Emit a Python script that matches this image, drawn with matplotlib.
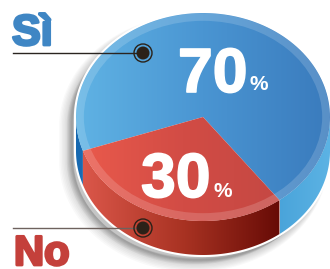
import numpy as np
import matplotlib
matplotlib.use('Agg')
import matplotlib.pyplot as plt
from matplotlib.patches import Polygon, Ellipse, Circle
from matplotlib.colors import LinearSegmentedColormap
import matplotlib.patheffects as pe

# Data
labels = ['Sì', 'No']
values = [70, 30]
pct_text = ['70', '30']
label_colors = ['#3f86c4', '#c4403b']

# Canvas in pixel coordinates
W, H = 330, 269
fig = plt.figure(figsize=(W / 100, H / 100), dpi=100)
ax = fig.add_axes([0, 0, 1, 1])

# pie geometry (pseudo 3D)
cx, cy, rx, ry, depth = 203, 117, 127, 104, 34
start_no = 199
spans = np.array(values) / sum(values) * 360
no_a0, no_a1 = start_no, start_no + spans[1]
si_a0, si_a1 = no_a1, no_a1 + spans[0]


def arc(a0, a1, dy=0, n=120):
    t = np.radians(np.linspace(a0, a1, n))
    return np.column_stack([cx + rx * np.cos(t), cy - ry * np.sin(t) + dy])


def side(a0, a1):
    return np.vstack([arc(a0, a1), arc(a0, a1, depth)[::-1]])


def grad_fill(xy, colors, x0, x1, z=2):
    patch = Polygon(xy, closed=True, facecolor='none', edgecolor='none', zorder=z)
    ax.add_patch(patch)
    cmap = LinearSegmentedColormap.from_list('g', colors)
    img = ax.imshow(np.linspace(0, 1, 256)[None, :], cmap=cmap, extent=[x0, x1, H, 0],
                    aspect='auto', zorder=z, interpolation='bilinear')
    img.set_clip_path(patch)


silhouette = np.vstack([arc(0, 180), arc(180, 360, depth)])

# soft shadow
for i in range(10):
    ax.add_patch(Polygon(silhouette + [-4 - i * 0.6, 5 + i * 0.5], closed=True,
                         facecolor='#000000', alpha=0.025, edgecolor='#000000',
                         linewidth=i * 1.2, zorder=0))
# white border
ax.add_patch(Polygon(silhouette, closed=True, facecolor='white', edgecolor='white',
                     linewidth=3, zorder=1))

# sides
grad_fill(side(si_a0 % 360, 360), ['#4aa4da', '#5cb3e4'], 280, 330)
grad_fill(side(180, no_a0), ['#1668b0', '#1b70b8'], 76, 90)
grad_fill(side(no_a0, no_a1), ['#dc584b', '#a83222', '#600703'], 80, 290)

# top slices
center = np.array([[cx, cy]])
grad_fill(np.vstack([center, arc(si_a0, si_a1)]), ['#60b3e4', '#4a95d2', '#3a7bbd'], 76, 330, z=3)
grad_fill(np.vstack([center, arc(no_a0, no_a1)]), ['#ea5a4c', '#d24c45', '#c44843'], 80, 285, z=3)

# lighter rim on top
top_clip = Ellipse((cx, cy), 2 * rx, 2 * ry, facecolor='none', edgecolor='none')
ax.add_patch(top_clip)
rim = Ellipse((cx, cy), 2 * rx - 8, 2 * ry - 8, facecolor='none', edgecolor='white',
              linewidth=5.5, alpha=0.16, zorder=4)
ax.add_patch(rim)
rim.set_clip_path(top_clip)

# percentage labels
num_font = dict(family='Liberation Sans', weight='bold', color='white', zorder=6)
stroke = [pe.withStroke(linewidth=1.2, foreground='white')]
ax.text(178, 92, pct_text[0], fontsize=45, ha='left', va='baseline',
        path_effects=stroke, **num_font)
ax.text(250, 90, '%', fontsize=15, ha='left', va='baseline', **num_font)
ax.text(141, 197, pct_text[1], fontsize=45, ha='left', va='baseline',
        path_effects=stroke, **num_font)
ax.text(213, 197, '%', fontsize=15, ha='left', va='baseline', **num_font)

# category labels
ax.text(12, 45, labels[0], fontsize=31, family='Liberation Sans', weight='bold',
        color=label_colors[0], ha='left', va='baseline', zorder=6,
        path_effects=[pe.withStroke(linewidth=2, foreground=label_colors[0])])
ax.text(14, 265, labels[1], fontsize=30, family='Liberation Sans', weight='bold',
        color=label_colors[1], ha='left', va='baseline', zorder=6,
        path_effects=[pe.withStroke(linewidth=2, foreground=label_colors[1])])

# leader lines with markers
for (ly, lc) in [(53, '#2a2420'), (228, '#6e625e')]:
    ax.plot([13, 143], [ly, ly], color=lc, linewidth=1.0, zorder=6)
    ax.add_patch(Circle((143, ly), 9, facecolor='none', edgecolor='#2a2118',
                        linewidth=1.0, zorder=7))
    ax.add_patch(Circle((143, ly), 6.5, facecolor='#2b2118', edgecolor='none', zorder=7))

ax.set_xlim(0, W)
ax.set_ylim(H, 0)
ax.axis('off')
fig.savefig('out.png', dpi=100)
